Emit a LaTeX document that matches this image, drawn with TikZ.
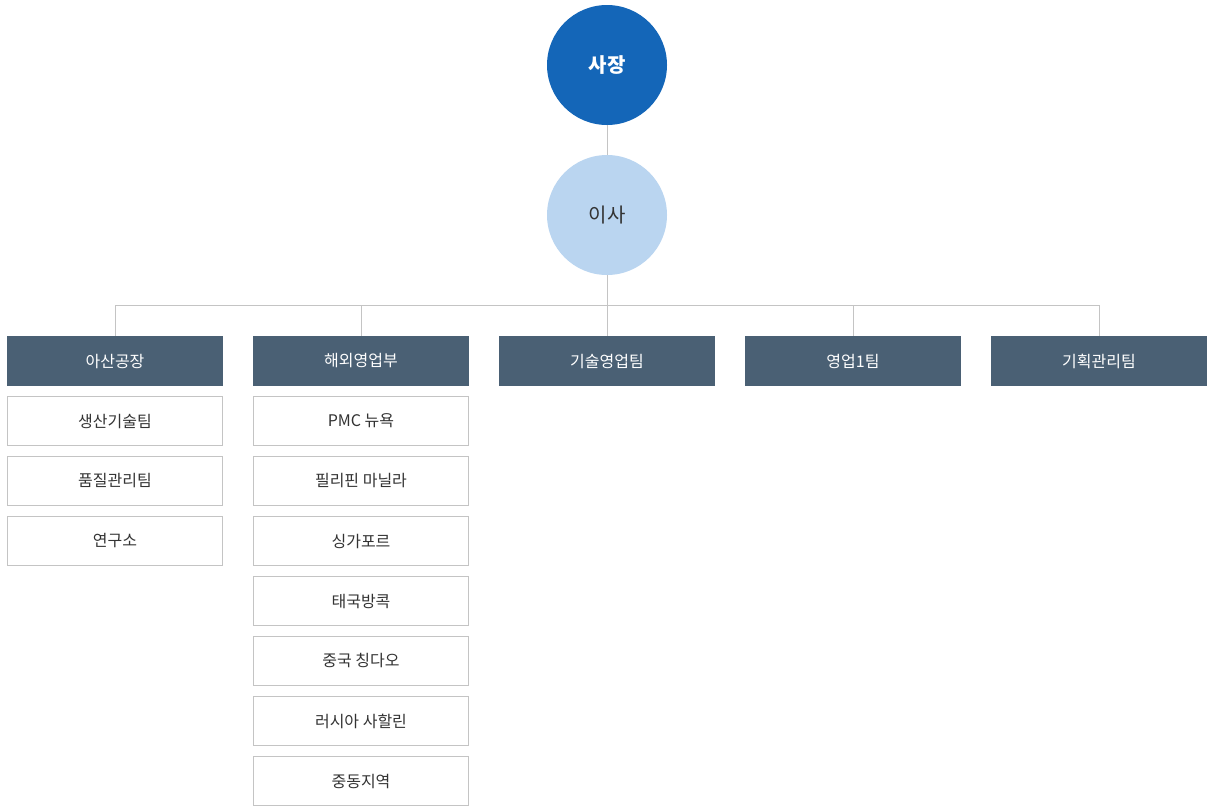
\documentclass[tikz,border=0pt]{standalone}
\usepackage{fontspec}
\setmainfont{Noto Sans CJK KR}
\definecolor{ceoblue}{HTML}{1466B8}
\definecolor{dirblue}{HTML}{BAD5F0}
\definecolor{deptgray}{HTML}{4A6074}
\definecolor{linegray}{HTML}{C4C4C4}
\definecolor{textdark}{HTML}{333333}
\begin{document}
\begin{tikzpicture}[x=1pt,y=-1pt]

      \tikzset{boss/.style={circle, inner sep=0pt, minimum size=120pt, font=\fontsize{20}{24}\selectfont},
               dept/.style={rectangle, fill=deptgray, text=white, minimum width=216pt, minimum height=50pt, inner sep=0pt, font=\fontsize{16}{19}\selectfont},
               team/.style={rectangle, draw=linegray, fill=white, text=textdark, line width=1pt, minimum width=215pt, minimum height=49pt, inner sep=0pt, font=\fontsize{16}{19}\selectfont},
               link/.style={draw=linegray, line width=1pt}}
      \useasboundingbox (0,0) rectangle (1212,807);
%% Top
      	\node[boss, fill=ceoblue, text=white, font=\fontsize{20}{24}\selectfont\bfseries] (ceo) at (607,65) {사장};
      	\node[boss, fill=dirblue, text=textdark] (dir) at (607,215) {이사};
      	\coordinate (busL) at (115,305);
      	\coordinate (busR) at (1099,305);
%% Departments
      	\node[dept] (d1) at (115,361) {아산공장};
      	\node[dept] (d2) at (361,361) {해외영업부};
      	\node[dept] (d3) at (607,361) {기술영업팀};
      	\node[dept] (d4) at (853,361) {영업1팀};
      	\node[dept] (d5) at (1099,361) {기획관리팀};
%% Teams
      	\foreach \t [count=\i] in {생산기술팀, 품질관리팀, 연구소}
      	    \node[team] (a\i) at (115,361+60*\i) {\t};
      	\foreach \t [count=\i] in {PMC 뉴욕, 필리핀 마닐라, 싱가포르, 태국방콕, 중국 칭다오, 러시아 사할린, 중동지역}
      	    \node[team] (b\i) at (361,361+60*\i) {\t};
%Edges
		\path[link] (ceo) -- (dir);
		\path[link] (dir) -- (dir |- busL);
		\path[link] (busL) -- (busR);
		\foreach \d in {d1,d2,d3,d4,d5}
		    \path[link] (\d.north) -- (\d.north |- busL);

	\end{tikzpicture}
\end{document}
